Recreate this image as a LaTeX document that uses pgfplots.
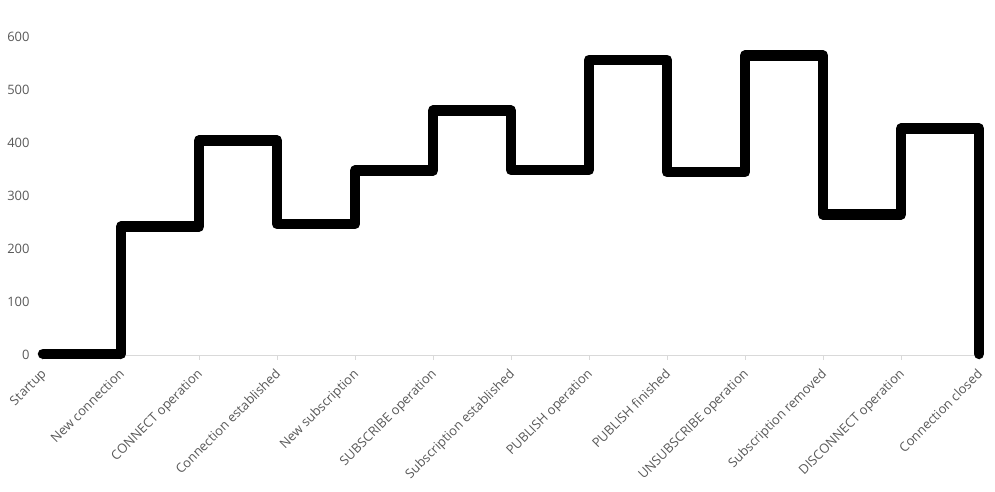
\documentclass[border=0pt]{standalone}
\usepackage{fontspec}
\setmainfont{Open Sans}
\usepackage{pgfplots}
\pgfplotsset{compat=1.18}
\definecolor{lbl}{HTML}{595959}
\definecolor{axl}{HTML}{D9D9D9}
\begin{document}
\begin{tikzpicture}[x=1bp,y=1bp]
\begin{axis}[
  name=ax,
  scale only axis,
  width=936bp, height=318bp,
  xmin=0, xmax=12, ymin=0, ymax=600,
  axis x line=bottom, axis y line=left,
  axis line style={draw=none},
  x axis line style={-}, y axis line style={-},
  clip=false,
  xtick={0,...,12},
  xticklabels={Startup,New connection,CONNECT operation,Connection established,New subscription,SUBSCRIBE operation,Subscription established,PUBLISH operation,PUBLISH finished,UNSUBSCRIBE operation,Subscription removed,DISCONNECT operation,Connection closed},
  ytick={0,100,...,600},
  /pgf/number format/assume math mode=true,
  tick label style={font=\fontsize{13}{14}\selectfont, text=lbl},
  x tick label style={rotate=45, anchor=north east, inner sep=1bp, yshift=-6bp, xshift=-10bp},
  y tick label style={xshift=-10bp},
  major tick length=0pt,
  tick style={draw=none},
]
\draw[axl, line width=1bp] (axis cs:0,0) -- (axis cs:12,0);
\pgfplotsinvokeforeach{0,...,12}{
  \draw[axl, line width=1bp] (axis cs:#1,0) -- ++(0,-5bp);
}
\addplot[const plot, black, line width=10.5bp, line join=round, line cap=round] coordinates {
(0,2) (1,242) (2,405) (3,247) (4,348) (5,461) (6,349) (7,557) (8,345) (9,565) (10,265) (11,427) (12,2)
};
\end{axis}
\path ([xshift=-43bp,yshift=-137bp]ax.south west) rectangle ([xshift=16bp,yshift=37bp]ax.north east);
\end{tikzpicture}
\end{document}
